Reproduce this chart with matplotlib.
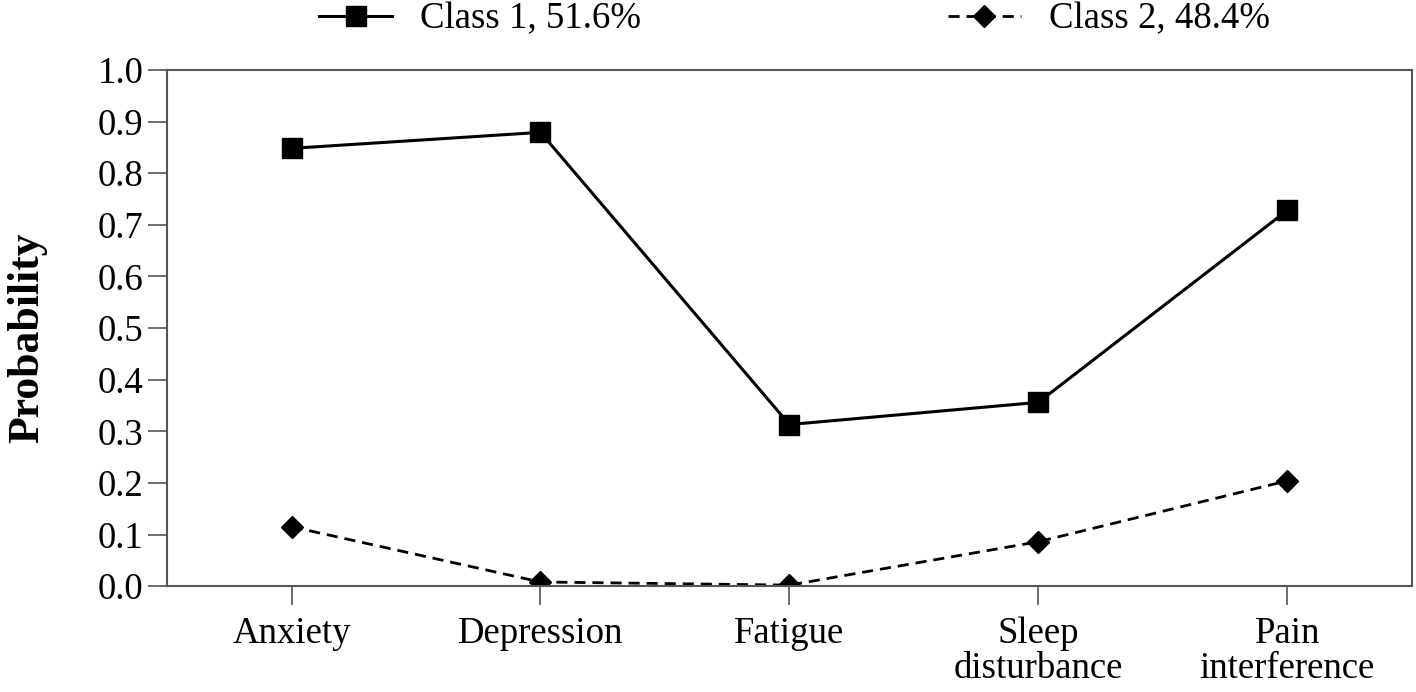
import matplotlib
matplotlib.use("Agg")
import matplotlib.pyplot as plt

categories = ["Anxiety", "Depression", "Fatigue", "Sleep\ndisturbance", "Pain\ninterference"]
class1 = [0.848, 0.879, 0.313, 0.356, 0.728]
class2 = [0.115, 0.008, 0.002, 0.086, 0.204]
series_labels = ["Class 1, 51.6%", "Class 2, 48.4%"]
yticks = [0.0, 0.1, 0.2, 0.3, 0.4, 0.5, 0.6, 0.7, 0.8, 0.9, 1.0]

plt.rcParams['font.family'] = ['Liberation Serif', 'DejaVu Serif']
fig = plt.figure(figsize=(14.16, 6.92), dpi=100)
ax = fig.add_axes([0.118, 0.153, 0.879, 0.746])

x = list(range(1, len(categories) + 1))
l1, = ax.plot(x, class1, color='black', lw=2.2, marker='s', markersize=14, label=series_labels[0])
l2, = ax.plot(x, class2, color='black', lw=2.0, ls=(0, (4, 2.5)), marker='D', markersize=11, label=series_labels[1])

ax.set_xlim(0.5, 5.5)
ax.set_ylim(0, 1.0)
ax.set_yticks(yticks)
ax.set_yticklabels([f"{v:.1f}" for v in yticks])
ax.set_xticks(x)
ax.set_xticklabels(categories, linespacing=1.0)
ax.tick_params(axis='both', labelsize=26.5, direction='out', length=14, width=1.2, color='#555555')
ax.tick_params(axis='x', pad=8)
ax.tick_params(axis='y', pad=3)
for s in ax.spines.values():
    s.set_color('#555555')
    s.set_linewidth(1.5)
ax.set_ylabel("Probability", fontsize=31.5, fontweight='bold')
ax.yaxis.set_label_coords(-0.0964, 0.4816)

fig.legend(handles=[l1, l2], labels=series_labels, loc='upper center', ncol=2,
           bbox_to_anchor=(0.561, 1.045), frameon=False, fontsize=26.5,
           handlelength=2.0, columnspacing=8.33, handletextpad=0.75)

fig.savefig("out.png", dpi=100)
